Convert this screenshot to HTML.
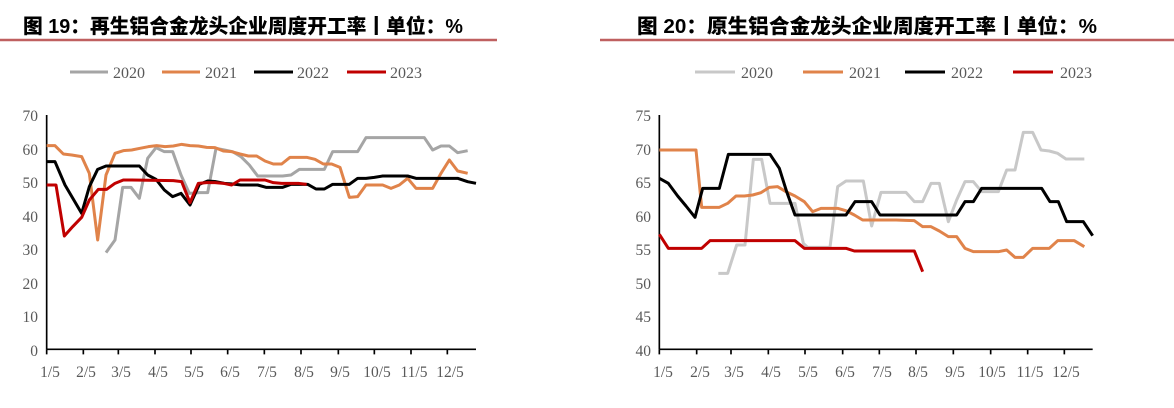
<!DOCTYPE html>
<html><head><meta charset="utf-8"><style>
html,body{margin:0;padding:0;background:#fff;}
svg{display:block;}
.t{font-family:"Liberation Sans","Noto Sans CJK SC",sans-serif;font-weight:900;font-size:20px;fill:#000;}
.l{font-family:"Liberation Serif",serif;font-size:16px;fill:#595959;}
.a{font-family:"Liberation Serif",serif;font-size:15.5px;fill:#595959;}
</style></head><body>
<svg width="1174" height="408" viewBox="0 0 1174 408" xmlns="http://www.w3.org/2000/svg">
<text class="t" x="23" y="33" textLength="440" lengthAdjust="spacingAndGlyphs">图 19：再生铝合金龙头企业周度开工率丨单位：%</text>
<line x1="0" y1="40" x2="497" y2="40" stroke="#bf6060" stroke-width="2.5"/>
<text class="t" x="637" y="33" textLength="460" lengthAdjust="spacingAndGlyphs">图 20：原生铝合金龙头企业周度开工率丨单位：%</text>
<line x1="600" y1="40" x2="1174" y2="40" stroke="#bf6060" stroke-width="2.5"/>

<g stroke-width="3">
<line x1="70" y1="72" x2="108" y2="72" stroke="#a5a5a5"/>
<line x1="162" y1="72" x2="200" y2="72" stroke="#e0834a"/>
<line x1="254" y1="72" x2="293" y2="72" stroke="#000"/>
<line x1="347" y1="72" x2="386" y2="72" stroke="#c00000"/>
<line x1="695" y1="72" x2="735" y2="72" stroke="#c8c8c8"/>
<line x1="803" y1="72" x2="843" y2="72" stroke="#e0834a"/>
<line x1="905" y1="72" x2="945" y2="72" stroke="#000"/>
<line x1="1013" y1="72" x2="1053" y2="72" stroke="#c00000"/>
</g>
<text class="l" x="113" y="78">2020</text><text class="l" x="205" y="78">2021</text><text class="l" x="297" y="78">2022</text><text class="l" x="390" y="78">2023</text>
<text class="l" x="741" y="78">2020</text><text class="l" x="849" y="78">2021</text><text class="l" x="951" y="78">2022</text><text class="l" x="1060" y="78">2023</text>

<g class="a" text-anchor="end">
<text x="38" y="121">70</text><text x="38" y="155">60</text><text x="38" y="188">50</text><text x="38" y="222">40</text>
<text x="38" y="255">30</text><text x="38" y="289">20</text><text x="38" y="322">10</text><text x="38" y="356">0</text>
</g>
<g class="a" text-anchor="middle">
<text x="50" y="377">1/5</text><text x="86" y="377">2/5</text><text x="121" y="377">3/5</text><text x="158" y="377">4/5</text>
<text x="194" y="377">5/5</text><text x="230" y="377">6/5</text><text x="267" y="377">7/5</text><text x="304" y="377">8/5</text>
<text x="340" y="377">9/5</text><text x="377" y="377">10/5</text><text x="414" y="377">11/5</text><text x="450" y="377">12/5</text>
</g>
<g transform="translate(0,90) scale(0.3333333)" fill="none" stroke-linejoin="round">
<g stroke="#000" stroke-width="5">
<line x1="140" y1="75" x2="140" y2="778"/><line x1="140" y1="778" x2="1428" y2="778"/>
<path d="M140 778v15M250 778v15M355 778v15M465 778v15M573 778v15M683 778v15M793 778v15M903 778v15M1015 778v15M1123 778v15M1233 778v15M1342 778v15"/>
</g>
<polyline stroke="#a5a5a5" stroke-width="9" points="318,488 345,450 368,292 393,292 418,325 443,205 468,173 493,185 518,185 543,255 568,310 598,308 623,308 648,175 673,180 698,185 723,200 748,225 773,258 798,258 823,258 848,258 873,255 898,238 923,238 948,238 973,238 998,185 1023,185 1048,185 1073,185 1098,143 1123,143 1273,143 1298,180 1323,168 1348,168 1373,188 1403,182"/>
<polyline stroke="#e0834a" stroke-width="9" points="140,167 165,167 190,192 215,195 245,200 268,250 293,450 318,255 345,190 370,182 395,180 420,175 445,170 470,167 495,170 520,168 545,163 570,167 595,168 620,172 645,173 670,183 695,185 720,192 745,198 770,198 795,213 820,222 845,222 870,202 895,202 920,202 945,208 970,222 995,222 1020,232 1048,322 1073,320 1098,285 1123,285 1148,285 1173,295 1198,285 1223,265 1248,295 1273,295 1298,295 1323,250 1348,210 1373,243 1403,250"/>
<polyline stroke="#000" stroke-width="9" points="140,215 165,215 195,285 245,370 268,290 293,238 318,228 343,228 418,228 443,255 468,268 493,300 518,320 543,310 570,345 598,283 623,273 648,275 673,280 698,282 723,285 748,285 773,285 798,292 823,292 848,292 873,283 898,283 923,283 948,297 973,297 998,283 1023,283 1048,283 1073,265 1098,265 1123,262 1148,258 1173,258 1223,258 1248,265 1273,265 1323,265 1373,265 1403,275 1428,280"/>
<polyline stroke="#c00000" stroke-width="9" points="140,285 168,285 193,438 218,410 245,382 268,330 295,298 320,298 345,280 370,270 395,270 520,272 545,275 570,338 595,280 620,278 645,278 670,280 695,285 720,270 745,270 770,270 795,270 820,278 845,280 870,280 895,280 920,283"/>
</g>

<g class="a" text-anchor="end">
<text x="651" y="121">75</text><text x="651" y="155">70</text><text x="651" y="188">65</text><text x="651" y="222">60</text>
<text x="651" y="255">55</text><text x="651" y="289">50</text><text x="651" y="322">45</text><text x="651" y="356">40</text>
</g>
<g class="a" text-anchor="middle">
<text x="663" y="377">1/5</text><text x="700" y="377">2/5</text><text x="734" y="377">3/5</text><text x="771" y="377">4/5</text>
<text x="808" y="377">5/5</text><text x="845" y="377">6/5</text><text x="882" y="377">7/5</text><text x="918" y="377">8/5</text>
<text x="955" y="377">9/5</text><text x="992" y="377">10/5</text><text x="1030" y="377">11/5</text><text x="1066" y="377">12/5</text>
</g>
<g transform="translate(600,90) scale(0.3333333)" fill="none" stroke-linejoin="round">
<g stroke="#000" stroke-width="5">
<line x1="178" y1="75" x2="178" y2="778"/><line x1="178" y1="778" x2="1478" y2="778"/>
<path d="M178 778v15M290 778v15M393 778v15M505 778v15M615 778v15M728 778v15M838 778v15M948 778v15M1060 778v15M1172 778v15M1283 778v15M1393 778v15"/>
</g>
<polyline stroke="#c8c8c8" stroke-width="9" points="355,550 383,550 410,465 435,465 460,208 485,208 510,340 535,340 560,340 585,340 610,460 623,472 690,472 713,290 738,273 763,273 790,273 815,408 843,307 868,307 893,307 918,307 943,335 968,335 993,280 1018,280 1045,395 1070,330 1095,275 1120,275 1145,305 1170,305 1195,305 1220,240 1245,240 1270,127 1298,127 1323,180 1348,183 1373,190 1398,207 1423,207 1453,207"/>
<polyline stroke="#e0834a" stroke-width="9" points="178,180 288,180 305,352 330,352 358,352 383,340 408,318 433,318 458,315 483,308 508,292 533,290 558,305 585,318 613,335 638,365 663,355 688,355 713,355 738,362 763,375 788,390 813,390 838,390 863,390 888,390 918,391 943,392 968,410 993,410 1018,423 1045,440 1070,440 1095,475 1120,485 1145,485 1170,485 1195,485 1220,480 1245,502 1270,502 1298,475 1323,475 1348,475 1373,452 1398,452 1423,452 1453,470"/>
<polyline stroke="#000" stroke-width="9" points="178,265 205,280 233,318 258,348 285,382 308,295 333,295 358,295 385,193 410,193 510,193 538,235 560,305 585,375 610,375 738,375 765,335 790,335 815,335 840,375 865,375 1070,375 1095,335 1120,335 1145,295 1170,295 1325,295 1350,335 1375,335 1400,395 1425,395 1450,395 1478,437"/>
<polyline stroke="#c00000" stroke-width="9" points="178,433 205,475 230,475 305,475 330,452 355,452 585,452 613,475 738,475 763,483 943,483 968,545"/>
</g>
</svg>
</body></html>
